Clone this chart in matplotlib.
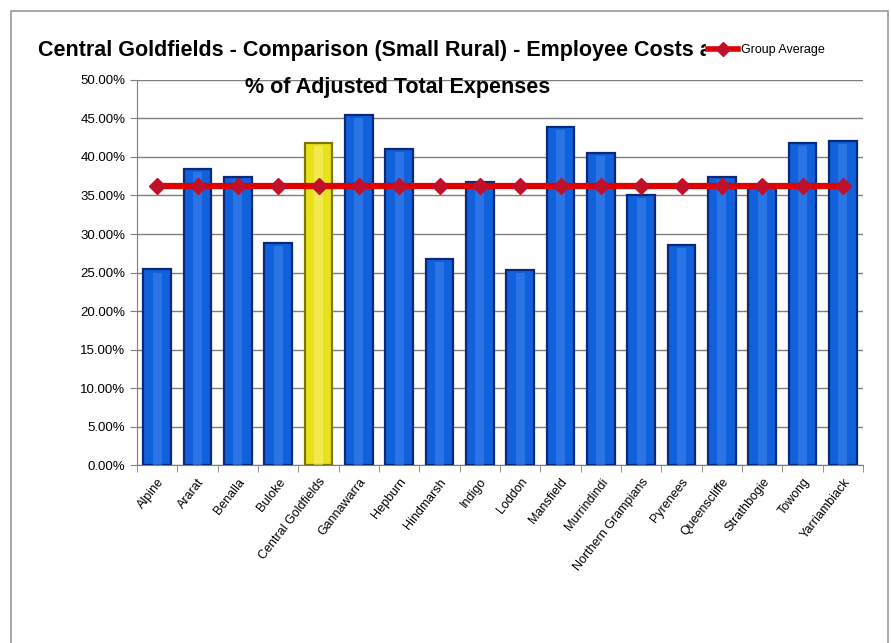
import matplotlib
matplotlib.use("Agg")
import matplotlib.pyplot as plt
from matplotlib.patches import Rectangle
from matplotlib.lines import Line2D
from matplotlib.ticker import PercentFormatter, FixedLocator

councils = ["Alpine", "Ararat", "Benalla", "Buloke", "Central Goldfields",
            "Gannawarra", "Hepburn", "Hindmarsh", "Indigo", "Loddon",
            "Mansfield", "Murrindindi", "Northern Grampians", "Pyrenees",
            "Queenscliffe", "Strathbogie", "Towong", "Yarriambiack"]
employee_costs = [25.4, 38.5, 37.45, 28.8, 41.85, 45.4, 41.0, 26.8, 36.7,
                  25.3, 43.9, 40.5, 35.1, 28.6, 37.4, 36.4, 41.8, 42.1]
group_average = [36.2] * len(councils)
highlight = "Central Goldfields"

plt.rcParams["font.family"] = ["Liberation Sans", "DejaVu Sans"]

fig = plt.figure(figsize=(8.91, 6.43), dpi=100)
ax = fig.add_axes([0.1538, 0.2768, 0.8148, 0.5988])

# outer chart border
fig.patches.append(Rectangle((0.012, -0.02), 0.985, 1.003, transform=fig.transFigure,
                             fill=False, edgecolor="#9a9a9a", lw=1.2))

x = list(range(len(councils)))
colors = ["#e9e21a" if c == highlight else "#1160dc" for c in councils]
edges = ["#7d7700" if c == highlight else "#0a2a78" for c in councils]
shine = ["#f6f27a" if c == highlight else "#3f86ef" for c in councils]
ax.bar(x, employee_costs, width=0.68, color=colors, edgecolor=edges, linewidth=1.6, zorder=3)
# lighter centre strip for the cylinder look
ax.bar(x, [v - 0.4 for v in employee_costs], width=0.22, color=shine, alpha=0.55,
       linewidth=0, zorder=3)

ax.plot(x, group_average, color="#e00000", lw=4.5, marker="D", markersize=8,
        markerfacecolor="#c0102a", markeredgecolor="#c0102a", zorder=4)

ax.set_xlim(-0.5, len(councils) - 0.5)
ax.set_ylim(0, 50)
ax.yaxis.set_major_locator(FixedLocator([i * 5 for i in range(11)]))
ax.yaxis.set_major_formatter(PercentFormatter(decimals=2))
ax.grid(axis="y", color="#7f7f7f", lw=1, zorder=0)

ax.set_xticks(x)
ax.set_xticklabels(councils, rotation=52, ha="right", rotation_mode="anchor", fontsize=9)
ax.set_xticks([i - 0.5 for i in range(len(councils) + 1)], minor=True)
ax.tick_params(axis="x", which="major", length=0, pad=8)
ax.tick_params(axis="x", which="minor", length=5, color="#7f7f7f", direction="out")
ax.tick_params(axis="y", length=5, color="#7f7f7f", labelsize=9.5, direction="out")

for side in ["top", "right"]:
    ax.spines[side].set_visible(False)
for side in ["left", "bottom"]:
    ax.spines[side].set_color("#7f7f7f")

fig.text(0.438, 0.922, "Central Goldfields - Comparison (Small Rural) - Employee Costs as a",
         ha="center", va="center", fontsize=15.5, fontweight="bold")
fig.text(0.446, 0.864, "% of Adjusted Total Expenses",
         ha="center", va="center", fontsize=15.5, fontweight="bold")

handle = Line2D([], [], color="#e00000", lw=4, marker="D", markersize=7,
                markerfacecolor="#c0102a", markeredgecolor="#c0102a")
leg = fig.legend([handle], ["Group Average"], loc="center left",
                 bbox_to_anchor=(0.785, 0.922), frameon=True, fontsize=9,
                 handlelength=2.4, handletextpad=0.2, borderpad=0.2)
leg.get_frame().set_edgecolor("white")
leg.get_frame().set_facecolor("white")
leg.get_frame().set_alpha(1)

fig.savefig("out.png", dpi=100)
